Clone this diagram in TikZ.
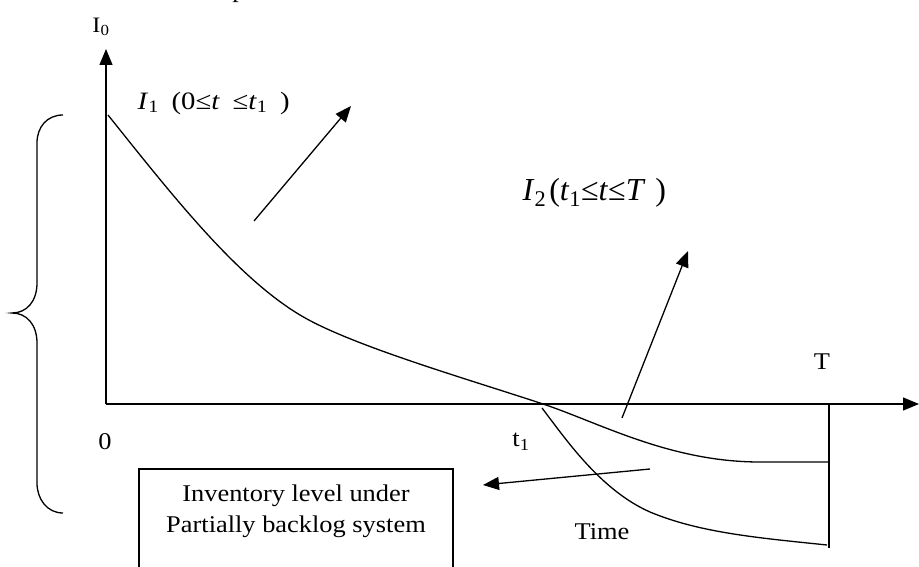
\documentclass[tikz,border=0pt]{standalone}
\usepackage{fontspec}
\setmainfont{Liberation Serif}
\usepackage{graphicx}
\usetikzlibrary{arrows.meta}
\newcommand{\wide}[1]{\scalebox{1.1}[1]{#1}}

\begin{document}
\begin{tikzpicture}[x=1pt,y=-1pt,line width=1.3pt,
  lbl/.style={inner sep=0pt,font=\fontsize{24}{31}\selectfont},
  arr/.style={-{Triangle[length=16pt,width=13pt]}}]
\useasboundingbox (0,0) rectangle (919,567);
\node[lbl,anchor=base] (cut) at (239,-2) {\wide{p}};
%
\coordinate (o) at (106,404);
\coordinate (ytip) at (106,49);
\coordinate (xtip) at (919,404);
\draw[arr] (o) -- (ytip);
\draw[arr] (o) -- (xtip);
\node[lbl,font=\fontsize{22}{26}\selectfont] (I0) at (101,27) {\wide{I\textsubscript{0}}};
\node[lbl] (zero) at (105,442) {\wide{0}};
\node[lbl] (t1) at (521,442) {\wide{t\textsubscript{1}}};
\node[lbl] (Tlbl) at (822,362) {\wide{T}};
\node[lbl] (time) at (602,532) {\wide{Time}};
%
\node[lbl,anchor=west,font=\fontsize{25}{30}\selectfont] (I1) at (137,103)
  {\scalebox{1.15}[1]{\textit{I}\textsubscript{1}\hspace{11pt}(0≤\textit{t}\hspace{11pt}≤\textit{t}\textsubscript{1}\hspace{11pt})}};
\node[lbl,anchor=west,font=\fontsize{32}{38}\selectfont] (I2) at (522,193)
  {\textit{I}\textsubscript{2}\hspace{3pt}(\textit{t}\textsubscript{1}≤\textit{t}≤\textit{T}\hspace{10pt})};
%
\draw (108,115) .. controls (172,195) and (236,276.6) .. (300,315)
  .. controls (350,345) and (463,377.6) .. (543,404)
  .. controls (600,423) and (670,462) .. (760,462) -- (829,462);
\draw (542,408) .. controls (565,438) and (600,490) .. (650,512)
  .. controls (700,533) and (760,538) .. (827,545);
\draw (829,404) -- (829,548);
%
\coordinate (a1) at (254,221);
\coordinate (b1) at (351,106);
\draw[arr] (a1) -- (b1);
\coordinate (a2) at (622,418);
\coordinate (b2) at (688,251);
\draw[arr] (a2) -- (b2);
\coordinate (a3) at (650,469);
\coordinate (b3) at (483,485);
\draw[arr] (a3) -- (b3);
%
\draw (139,469) rectangle (453,600);
\node[lbl,align=center] (boxtxt) at (296,511)
  {\wide{Inventory level under}\\\wide{Partially backlog system}};
%
\draw (63,115) .. controls (47,115) and (37,127) .. (37,143) -- (37,283)
  .. controls (37,301) and (27,313) .. (12,313)
  .. controls (27,313) and (37,325) .. (37,343) -- (37,483)
  .. controls (37,499) and (47,513) .. (63,513);
\end{tikzpicture}
\end{document}
